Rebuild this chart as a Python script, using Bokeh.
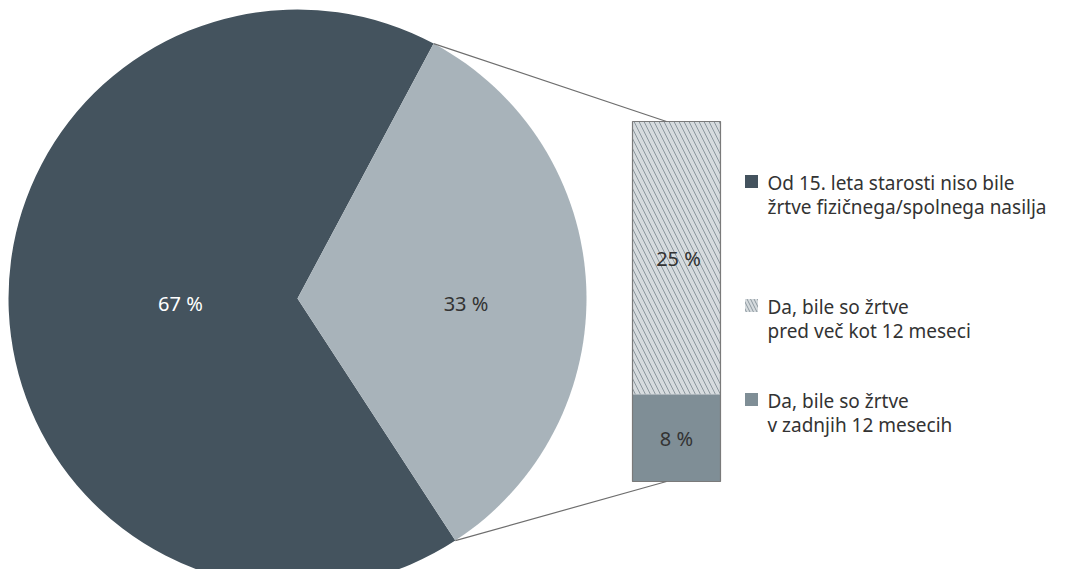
import math
from bokeh.plotting import figure
from bokeh.models import Range1d
from bokeh.core.properties import value
from bokeh.embed import file_html
from bokeh.resources import INLINE

# ---- data ----
pie_labels = ["Od 15. leta starosti niso bile\nžrtve fizičnega/spolnega nasilja", "Da, bile so žrtve"]
pie_values = [67, 33]
bar_labels = ["Da, bile so žrtve\nv zadnjih 12 mesecih", "Da, bile so žrtve\npred več kot 12 meseci"]
bar_values = [8, 25]

legend_items = [
    "Od 15. leta starosti niso bile\nžrtve fizičnega/spolnega nasilja",
    "Da, bile so žrtve\npred več kot 12 meseci",
    "Da, bile so žrtve\nv zadnjih 12 mesecih",
]

DARK = "#44535e"
LIGHT = "#a8b3ba"
MID = "#7f8e96"
HATCH_BG = "#d6dbde"
HATCH_LINE = "#8c979e"
TEXT = "#333333"
FONT = "Noto Sans"
FS = "19px"
FS_LABEL = "20px"

W, H = 1054, 569
PH = 585  # pixel height of the reference frame; data y = PH - pixel y
p = figure(width=W, height=H, output_backend="svg", toolbar_location=None,
           x_range=Range1d(0, W), y_range=Range1d(PH - H, PH),
           min_border=0, outline_line_color=None)
p.axis.visible = False
p.grid.visible = False
p.background_fill_color = "white"
p.border_fill_color = "white"

# pie geometry (data units = pixels, y up)
cx, cy, r = 297, PH - 298, 289
total = sum(pie_values)
light_span = 2 * math.pi * pie_values[1] / total
mid = math.radians(2.5)
a_start = mid - light_span / 2
a_end = mid + light_span / 2

p.wedge(x=cx, y=cy, radius=r, start_angle=a_end, end_angle=a_start + 2 * math.pi,
        fill_color=DARK, line_color=None)
p.wedge(x=cx, y=cy, radius=r, start_angle=a_start, end_angle=a_end,
        fill_color=LIGHT, line_color=None)

p.text(x=[cx - 0.405 * r], y=[cy - 5], text=[f"{pie_values[0]} %"], text_align="center",
       text_baseline="middle", text_color="white", text_font=value(FONT), text_font_size=FS_LABEL)
p.text(x=[cx + 0.583 * r], y=[cy - 5], text=[f"{pie_values[1]} %"], text_align="center",
       text_baseline="middle", text_color=TEXT, text_font=value(FONT), text_font_size=FS_LABEL)

# stacked bar
bx, bw = 676, 88
b_bottom = PH - 481
scale = 360 / sum(bar_values)
y0 = b_bottom
y1 = y0 + bar_values[0] * scale
y2 = y1 + bar_values[1] * scale

p.quad(left=bx - bw / 2, right=bx + bw / 2, bottom=y0, top=y1,
       fill_color=MID, line_color=None)
p.quad(left=bx - bw / 2, right=bx + bw / 2, bottom=y1, top=y2,
       fill_color=HATCH_BG, line_color=None,
       hatch_pattern="\\", hatch_color=HATCH_LINE, hatch_scale=10, hatch_weight=1)
p.quad(left=bx - bw / 2, right=bx + bw / 2, bottom=y0, top=y2,
       fill_color=None, line_color="#7a7a7a", line_width=1.2)

p.text(x=[bx + 2], y=[(y1 + y2) / 2 - 1], text=[f"{bar_values[1]} %"], text_align="center",
       text_baseline="middle", text_color=TEXT, text_font=value(FONT), text_font_size=FS_LABEL)
p.text(x=[bx], y=[(y0 + y1) / 2 - 1], text=[f"{bar_values[0]} %"], text_align="center",
       text_baseline="middle", text_color=TEXT, text_font=value(FONT), text_font_size=FS_LABEL)

# connector lines
lx = bx - 10
p.line(x=[cx + r * math.cos(a_end), lx], y=[cy + r * math.sin(a_end), y2],
       line_color="#6e6e6e", line_width=1.2)
p.line(x=[cx + r * math.cos(a_start), lx], y=[cy + r * math.sin(a_start), y0],
       line_color="#6e6e6e", line_width=1.2)

# legend
leg_x = 751
leg_y = [PH - 181, PH - 305, PH - 399]
sq = 13
p.quad(left=leg_x - sq / 2, right=leg_x + sq / 2, bottom=leg_y[0] - sq / 2, top=leg_y[0] + sq / 2,
       fill_color=DARK, line_color=None)
p.quad(left=leg_x - sq / 2, right=leg_x + sq / 2, bottom=leg_y[1] - sq / 2, top=leg_y[1] + sq / 2,
       fill_color=HATCH_BG, line_color=None,
       hatch_pattern="\\", hatch_color=HATCH_LINE, hatch_scale=7, hatch_weight=1)
p.quad(left=leg_x - sq / 2, right=leg_x + sq / 2, bottom=leg_y[2] - sq / 2, top=leg_y[2] + sq / 2,
       fill_color=MID, line_color=None)

for ly, lab in zip(leg_y, legend_items):
    lines = lab.split("\n")
    p.text(x=[767] * len(lines), y=[ly - 1 - 24 * i for i in range(len(lines))], text=lines,
           text_align="left", text_baseline="middle",
           text_color=TEXT, text_font=value(FONT), text_font_size=FS)

open("out.html", "w").write(file_html(p, INLINE))
